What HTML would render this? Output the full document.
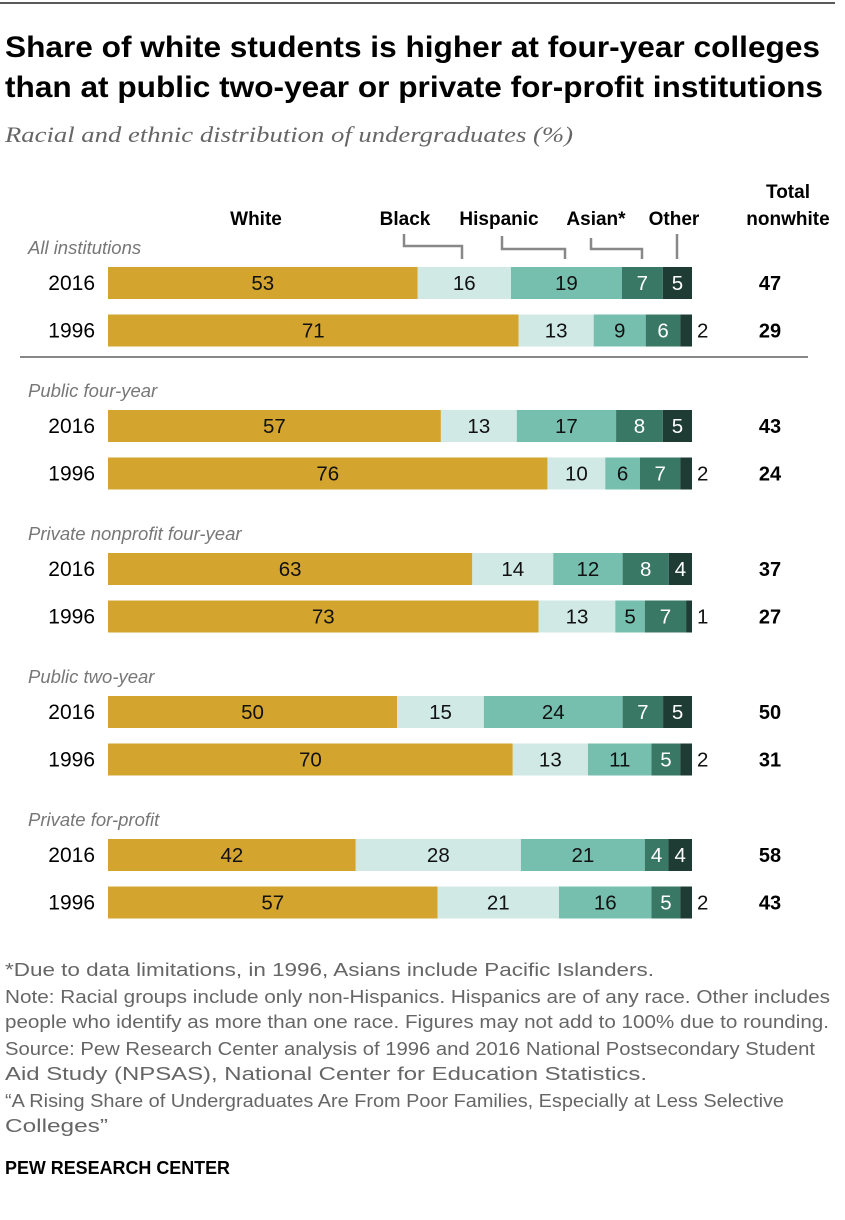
<!DOCTYPE html>
<html><head><meta charset="utf-8"><style>
body{margin:0;background:#fff}
svg text{font-family:"Liberation Sans",Arial,sans-serif}
</style></head><body>
<svg width="845" height="1215" viewBox="0 0 845 1215" xmlns="http://www.w3.org/2000/svg">
<line x1="0" y1="3" x2="835" y2="3" stroke="#222" stroke-width="1.5"/>
<text x="5" y="57" font-size="30" font-weight="bold" textLength="815" lengthAdjust="spacingAndGlyphs">Share of white students is higher at four-year colleges</text>
<text x="5" y="97" font-size="30" font-weight="bold" textLength="818" lengthAdjust="spacingAndGlyphs">than at public two-year or private for-profit institutions</text>
<text x="5" y="142" font-size="22" font-style="italic" fill="#666" style="font-family:'Liberation Serif',serif" textLength="568" lengthAdjust="spacingAndGlyphs">Racial and ethnic distribution of undergraduates (%)</text>
<g font-weight="bold" font-size="19">
<text x="256" y="225" text-anchor="middle">White</text>
<text x="405" y="225" text-anchor="middle">Black</text>
<text x="499" y="225" text-anchor="middle">Hispanic</text>
<text x="596" y="225" text-anchor="middle">Asian*</text>
<text x="674" y="225" text-anchor="middle">Other</text>
<text x="788" y="198" text-anchor="middle">Total</text>
<text x="788" y="225" text-anchor="middle">nonwhite</text>
</g>
<g fill="none" stroke="#888" stroke-width="2.5">
<polyline points="404,234 404,246 462,246 462,259"/>
<polyline points="502,236 502,249 565,249 565,259"/>
<polyline points="591,238 591,249 642,249 642,259"/>
<polyline points="677,234 677,259"/>
</g>
<line x1="20" y1="357" x2="808" y2="357" stroke="#888" stroke-width="2"/>
<g id="bars"></g>
<g font-size="18" fill="#666">
<text x="5" y="976" textLength="649" lengthAdjust="spacingAndGlyphs">*Due to data limitations, in 1996, Asians include Pacific Islanders.</text>
<text x="5" y="1003" textLength="825" lengthAdjust="spacingAndGlyphs">Note: Racial groups include only non-Hispanics. Hispanics are of any race. Other includes</text>
<text x="5" y="1028" textLength="824" lengthAdjust="spacingAndGlyphs">people who identify as more than one race. Figures may not add to 100% due to rounding.</text>
<text x="5" y="1055" textLength="810" lengthAdjust="spacingAndGlyphs">Source: Pew Research Center analysis of 1996 and 2016 National Postsecondary Student</text>
<text x="5" y="1080" textLength="642" lengthAdjust="spacingAndGlyphs">Aid Study (NPSAS), National Center for Education Statistics.</text>
<text x="5" y="1107" textLength="779" lengthAdjust="spacingAndGlyphs">“A Rising Share of Undergraduates Are From Poor Families, Especially at Less Selective</text>
<text x="5" y="1132" textLength="103" lengthAdjust="spacingAndGlyphs">Colleges”</text>
</g>
<text x="5" y="1174" font-size="18" font-weight="bold" textLength="225" lengthAdjust="spacingAndGlyphs">PEW RESEARCH CENTER</text>
</svg>
<script>
const groups = ["All institutions","Public four-year","Private nonprofit four-year","Public two-year","Private for-profit"];
const years = ["2016","1996"];
const white = [53,71,57,76,63,73,50,70,42,57];
const black = [16,13,13,10,14,13,15,13,28,21];
const hispanic = [19,9,17,6,12,5,24,11,21,16];
const asian = [7,6,8,7,8,7,7,5,4,5];
const other = [5,2,5,2,4,1,5,2,4,2];
const totals = [47,29,43,24,37,27,50,31,58,43];
const series=[white,black,hispanic,asian,other];
const names=['white','black','hispanic','asian','other'];
const colors=['#D3A52F','#D0E9E4','#76BFAF','#3A7866','#1E3C34'];
const tcol=['#111','#111','#111','#fff','#fff'];
const ns='http://www.w3.org/2000/svg';
const g=document.getElementById('bars');
const x0=108, k=5.84;
function mk(tag,attrs,txt){const e=document.createElementNS(ns,tag);for(const a in attrs)e.setAttribute(a,attrs[a]);if(txt!==undefined)e.textContent=txt;g.appendChild(e);return e;}
groups.forEach((gn,gi)=>{
  const base=248+gi*143;
  const l=mk('text',{x:28,y:base+6,'font-size':18.5,'font-style':'italic',fill:'#777'},gn);
  
  
  years.forEach((yr,yi)=>{
    const r=gi*2+yi;
    const top=base+19+yi*47.5;
    const yl=mk('text',{x:95,y:top+23,'font-size':21,'text-anchor':'end'},yr);
    
    
    const sum=series.reduce((a,s)=>a+s[r],0);
    let cx=x0;
    series.forEach((s,si)=>{
      const w=s[r]/sum*100*k;
      const rc=mk('rect',{x:cx,y:top,width:w,height:32,fill:colors[si]});
      
      
      let tx=cx+w/2, fill=tcol[si], anch='middle';
      if(w<16){tx=cx+w+5;fill='#111';anch='start';}
      const t=mk('text',{x:tx,y:top+23,'font-size':20.5,'text-anchor':anch,fill:fill},s[r]);
      
      
      cx+=w;
    });
    const tt=mk('text',{x:770,y:top+23,'font-size':20,'font-weight':'bold','text-anchor':'middle'},totals[r]);
    
    
  });
});
</script>
</body></html>
